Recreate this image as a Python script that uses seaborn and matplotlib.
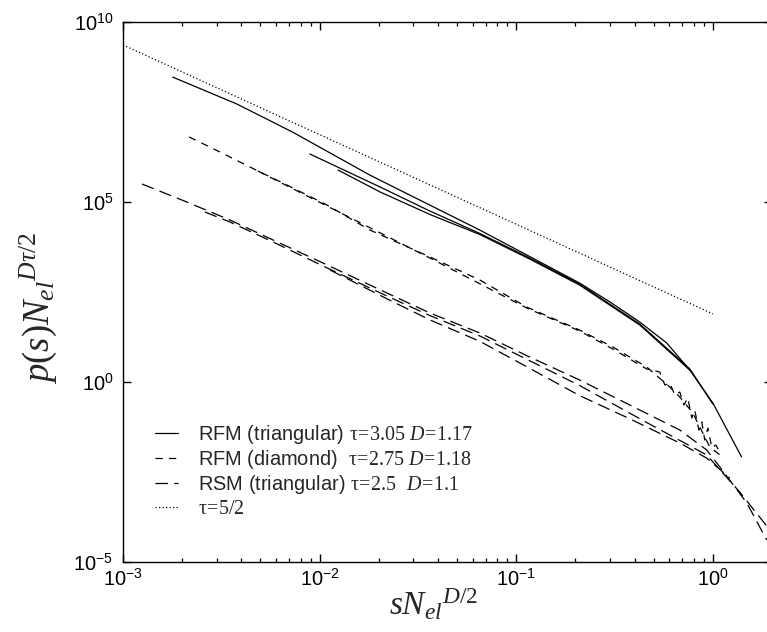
import matplotlib
matplotlib.use("Agg")
import matplotlib.pyplot as plt
import seaborn as sns
from matplotlib.ticker import NullLocator, NullFormatter

# ---- RFM on the triangular lattice, three system sizes ----
rfm_tri_1_x = [1.79e-3, 3.8e-3, 7.3e-3, 0.018, 0.0653, 0.21, 0.30, 0.425, 0.583, 0.764, 1.0, 1.40]
rfm_tri_1_y = [2.95e8, 5.25e7, 8.7e6, 5.6e5, 1.66e4, 562, 167, 46.4, 12.1, 2.14, 0.263, 8.3e-3]

rfm_tri_2_x = [8.93e-3, 0.0203, 0.0364, 0.0653, 0.117, 0.21, 0.425, 0.764, 1.0]
rfm_tri_2_y = [2.15e6, 2.61e5, 5.6e4, 1.34e4, 2.78e3, 527, 40.8, 2.30, 0.245]

rfm_tri_3_x = [0.0124, 0.0203, 0.0364, 0.0653, 0.117, 0.21, 0.425, 0.764]
rfm_tri_3_y = [7.74e5, 1.9e5, 4.5e4, 1.25e4, 2.61e3, 494, 38.3, 2.14]

# ---- RFM on the diamond lattice ----
rfm_dia_1_x = [2.17e-3, 3.11e-3, 4.98e-3, 6.82e-3, 0.0109, 0.018, 0.0364, 0.0653, 0.113,
               0.21, 0.31, 0.461, 0.604, 0.679, 0.791, 0.889, 0.966, 1.12]
rfm_dia_1_y = [6.4e6, 2.45e6, 6.8e5, 2.97e5, 8.26e4, 1.67e4, 2.97e3, 681, 121,
               27.8, 9.38, 2.61, 0.726, 0.383, 0.138, 0.0383, 0.0156, 8.3e-3]

rfm_dia_2_x = [4.85e-3, 0.0109, 0.0364, 0.113, 0.21, 0.31, 0.461, 0.537, 0.570, 0.604,
               0.641, 0.679, 0.713, 0.746, 0.782, 0.809, 0.849, 0.879, 0.910, 0.944,
               0.989, 1.035, 1.086]
rfm_dia_2_y = [7.26e5, 7.74e4, 2.78e3, 114, 26.1, 8.26, 2.30, 1.90, 0.826, 0.938,
               0.436, 0.527, 0.23, 0.36, 0.1, 0.167, 0.0464, 0.0774, 0.0245, 0.0527,
               0.0147, 0.0178, 0.0114]

# ---- RSM on the triangular lattice ----
rsm_tri_1_x = [1.25e-3, 2.11e-3, 3.5e-3, 5.8e-3, 0.0104, 0.022, 0.0364, 0.0653, 0.117,
               0.21, 0.378, 0.679, 0.931, 1.086, 1.49, 1.88]
rsm_tri_1_y = [3.16e5, 1e5, 3.16e4, 8.8e3, 2.02e3, 297, 82.6, 23.0, 4.95,
               1.14, 0.23, 0.0464, 0.0129, 4.35e-3, 4.35e-4, 4.08e-5]

rsm_tri_2_x = [2.61e-3, 3.5e-3, 5.8e-3, 0.0104, 0.022, 0.0364, 0.0653, 0.117, 0.21,
               0.461, 0.931, 1.37, 1.88]
rsm_tri_2_y = [5.27e4, 2.78e4, 7.74e3, 1.67e3, 245, 70.0, 19.0, 3.9, 0.80,
               0.075, 9.4e-3, 8.8e-4, 1e-4]

rsm_tri_3_x = [0.0113, 0.022, 0.0364, 0.0653, 0.117, 0.21, 0.378, 0.679, 0.931, 1.22]
rsm_tri_3_y = [1.29e3, 205, 53.0, 13.5, 2.4, 0.42, 0.095, 0.0202, 7.7e-3, 2.15e-3]

# ---- reference power law tau = 5/2 ----
ref_x = [1e-3, 1.0]
ref_y = [2.3e9, 78]

legend_labels = [
    r"RFM (triangular) $\mathrm{\tau\!=\!3.05}$ $\mathit{D\!=\!1.17}$",
    r"RFM (diamond)  $\mathrm{\tau\!=\!2.75}$ $\mathit{D\!=\!1.18}$",
    r"RSM (triangular) $\mathrm{\tau\!=\!2.5}$  $\mathit{D\!=\!1.1}$",
    r"$\mathrm{\tau\!=\!5/2}$",
]

sns.set_style("ticks")
plt.rcParams.update({
    "font.family": ["Liberation Sans", "DejaVu Sans"],
    "mathtext.fontset": "custom",
    "mathtext.rm": "Liberation Serif",
    "mathtext.it": "Liberation Serif:italic",
    "mathtext.bf": "Liberation Serif:bold",
    "axes.linewidth": 1.0,
    "axes.edgecolor": "black",
    "xtick.color": "black",
    "ytick.color": "black",
    "xtick.direction": "in",
    "ytick.direction": "in",
    "xtick.top": True,
    "ytick.right": True,
    "xtick.major.size": 5.8,
    "ytick.major.size": 5.8,
    "xtick.minor.size": 2.9,
    "xtick.major.width": 1.0,
    "ytick.major.width": 1.0,
    "xtick.minor.width": 0.9,
    "xtick.labelsize": 14.4,
    "ytick.labelsize": 14.4,
    "xtick.major.pad": 4,
    "ytick.major.pad": 7,
})

W, H = 767, 632
fig = plt.figure(figsize=(W / 100, H / 100), dpi=100)
# the frame runs past the right edge, as in the printed figure
ax = fig.add_axes([123 / W, (H - 562) / H, (772 - 123) / W, (562 - 22) / H])
ax.set_xscale("log")
ax.set_yscale("log")

solid = "-"
short_dash = (0, (5.8, 5.0))
long_dash = (0, (10.0, 5.0))
dotted = (0, (1.0, 1.8))

series = [
    (rfm_tri_1_x, rfm_tri_1_y, solid),
    (rfm_tri_2_x, rfm_tri_2_y, solid),
    (rfm_tri_3_x, rfm_tri_3_y, solid),
    (rfm_dia_1_x, rfm_dia_1_y, short_dash),
    (rfm_dia_2_x, rfm_dia_2_y, short_dash),
    (rsm_tri_1_x, rsm_tri_1_y, long_dash),
    (rsm_tri_2_x, rsm_tri_2_y, long_dash),
    (rsm_tri_3_x, rsm_tri_3_y, long_dash),
    (ref_x, ref_y, dotted),
]

lines = []
for xs, ys, ls in series:
    sns.lineplot(x=xs, y=ys, ax=ax, color="black", linewidth=0.9,
                 linestyle=ls, sort=False, estimator=None, legend=False)
    lines.append(ax.lines[-1])

ax.set_xlim(1e-3, 2.0)
ax.set_ylim(1e-5, 1e10)
ax.set_yticks([1e-5, 1e0, 1e5, 1e10])
ax.yaxis.set_minor_locator(NullLocator())
ax.xaxis.set_minor_formatter(NullFormatter())

ax.set_xlabel(r"$\mathit{sN_{el}{}^{D/2}}$", fontsize=24)
ax.set_ylabel(r"$\mathit{p(s)N_{el}{}^{D\tau/2}}$", fontsize=26.5)
ax.xaxis.set_label_coords(0.478, -0.045)
ax.yaxis.set_label_coords(-0.098, 0.47)

handles = [lines[0], lines[3], lines[5], lines[8]]
ax.legend(handles, legend_labels, loc="upper left", bbox_to_anchor=(0.049, 0.258),
          frameon=False, fontsize=14.4, handlelength=1.15, handletextpad=1.0,
          labelspacing=0.12, borderpad=0, borderaxespad=0)

fig.savefig("out.png", dpi=100)
